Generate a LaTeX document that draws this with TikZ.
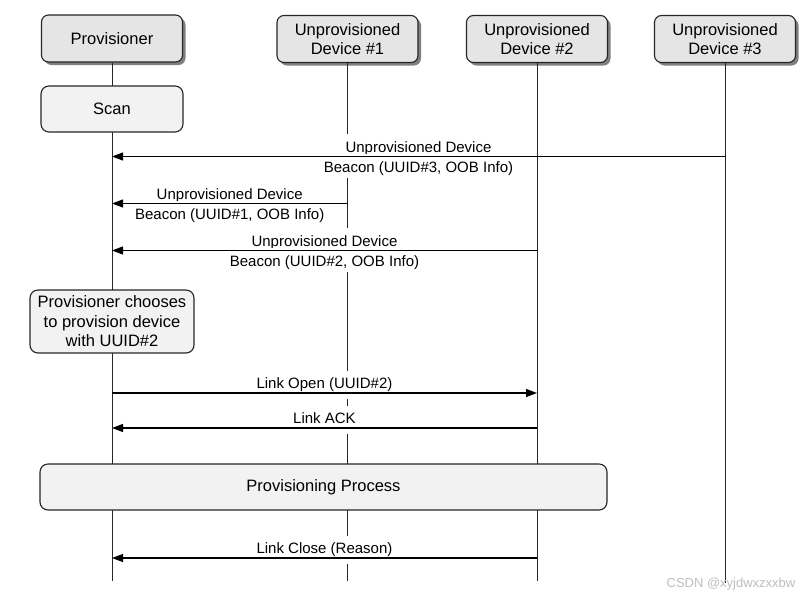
\documentclass[tikz,border=0pt]{standalone}
\usepackage{fontspec}
\setmainfont{Liberation Sans}
\usetikzlibrary{arrows.meta,shadows}
\begin{document}
\begin{tikzpicture}[x=1pt,y=-1pt,
  hdr/.style={draw=black!85, line width=1.1pt, rounded corners=7pt, fill=black!10,
    minimum width=141pt, minimum height=47pt, align=center, inner sep=0pt,
    font=\fontsize{16.5}{19.5}\selectfont,
    drop shadow={shadow xshift=3pt, shadow yshift=-3pt, fill=black!50, opacity=1}},
  actbox/.style={draw=black!85, line width=1.1pt, rounded corners=8pt, fill=black!5,
    align=center, inner sep=0pt, font=\fontsize{16.5}{19.5}\selectfont},
  life/.style={draw=black!85, line width=0.9pt},
  msg/.style={draw=black, line width=1.1pt, -{Triangle[length=11pt,width=8pt]}},
  lbl/.style={fill=white, anchor=base, inner xsep=2pt, inner ysep=0pt,
    text height=18pt, text depth=6pt, font=\fontsize{15}{18}\selectfont},
  lblone/.style={lbl, text depth=10.4pt},
]
\useasboundingbox[fill=white] (0,0) rectangle (809,598);

% headers
\node[hdr] (prov) at (112,38.5) {Provisioner};
\node[hdr] (dev1) at (347.5,39) {Unprovisioned\\Device \#1};
\node[hdr] (dev2) at (537,39) {Unprovisioned\\Device \#2};
\node[hdr] (dev3) at (725,39) {Unprovisioned\\Device \#3};

% lifeline ends
\coordinate (provend) at (112,581);
\coordinate (d1end) at (347.5,581);
\coordinate (d2end) at (537,581);
\coordinate (d3end) at (725,583);

\draw[life] (prov.south) -- (provend);
\draw[life] (dev1.south) -- (d1end);
\draw[life] (dev2.south) -- (d2end);
\draw[life] (dev3.south) -- (d3end);

% message end points
\coordinate (m1a) at (725,156.5);   \coordinate (m1b) at (112,156.5);
\coordinate (m2a) at (347.5,203.5); \coordinate (m2b) at (112,203.5);
\coordinate (m3a) at (537,250.5);   \coordinate (m3b) at (112,250.5);
\coordinate (m4a) at (112,393);     \coordinate (m4b) at (537,393);
\coordinate (m5a) at (537,428);     \coordinate (m5b) at (112,428);
\coordinate (m6a) at (537,558);     \coordinate (m6b) at (112,558);

% labels
\node[lbl] (l1a) at (418.5,152) {Unprovisioned Device};
\node[lbl] (l1b) at (418.5,172) {Beacon (UUID\#3, OOB Info)};
\node[lbl] (l2a) at (229.7,199.5) {Unprovisioned Device};
\node[lbl] (l2b) at (229.7,219) {Beacon (UUID\#1, OOB Info)};
\node[lbl] (l3a) at (324.5,246) {Unprovisioned Device};
\node[lbl] (l3b) at (324.5,266) {Beacon (UUID\#2, OOB Info)};
\node[lblone] (l4) at (324.5,388.5) {Link Open (UUID\#2)};
\node[lblone] (l5) at (324.5,423.6) {Link ACK};
\node[lblone] (l6) at (324.5,553.6) {Link Close (Reason)};

% activity boxes
\node[actbox, minimum width=142pt, minimum height=46pt] (scan) at (112,109) {Scan};
\node[actbox, minimum width=164pt, minimum height=63pt] (choose) at (112,321.5)
  {Provisioner chooses\\to provision device\\with UUID\#2};
\node[actbox, minimum width=567pt, minimum height=46pt] (proc) at (323.5,487)
  {Provisioning Process};

% messages
\draw[msg] (m1a) -- (m1b);
\draw[msg] (m2a) -- (m2b);
\draw[msg] (m3a) -- (m3b);
\draw[msg] (m4a) -- (m4b);
\draw[msg] (m5a) -- (m5b);
\draw[msg] (m6a) -- (m6b);

% watermark
\node[anchor=base, text=black!25, inner sep=0pt, font=\fontsize{13}{15}\selectfont]
  (wm) at (731,587) {CSDN @xyjdwxzxxbw};
\end{tikzpicture}
\end{document}
